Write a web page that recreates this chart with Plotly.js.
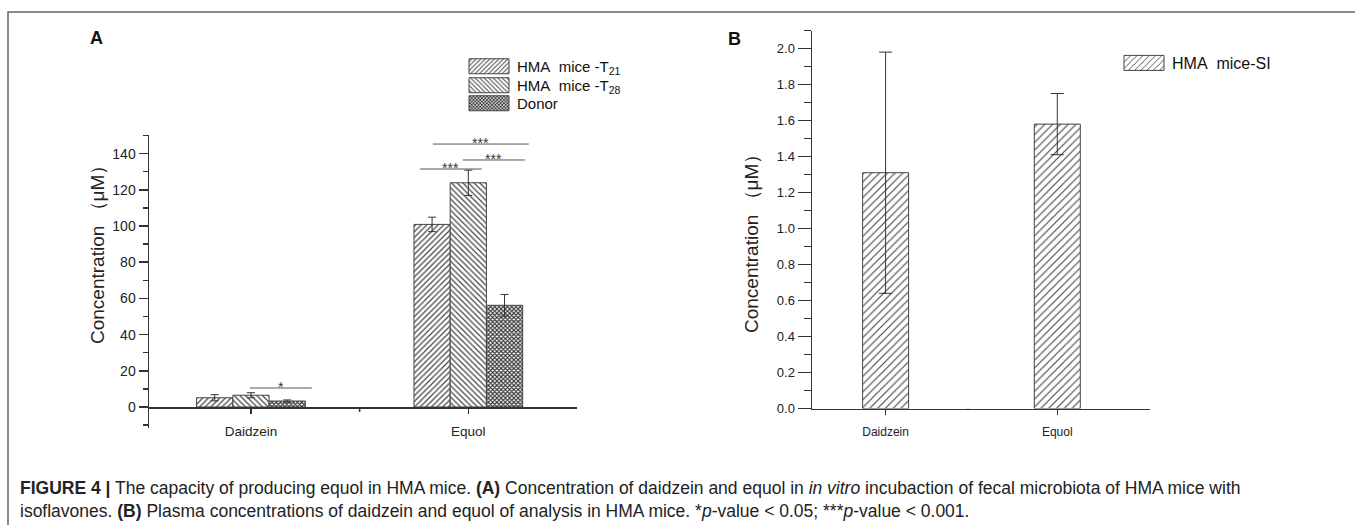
<!DOCTYPE html>
<html><head><meta charset="utf-8">
<script src="https://cdn.plot.ly/plotly-3.0.1.min.js"></script>
<style>html,body{margin:0;padding:0;background:#fff;} #chart{width:1355px;height:525px;}</style>
</head><body><div id="chart"></div>
<script>
// ---- data ----
const categories = ['Daidzein', 'Equol'];
const seriesNamesA = ['HMA&nbsp; mice -T<sub>21</sub>', 'HMA&nbsp; mice -T<sub>28</sub>', 'Donor'];
const t21Values = [5.1, 100.9];
const t21Err = [1.7, 4.0];
const t28Values = [6.5, 123.9];
const t28Err = [1.4, 7.0];
const donorValues = [3.3, 56.2];
const donorErr = [0.6, 6.0];
const seriesNameB = 'HMA&nbsp; mice-SI';
const siValues = [1.31, 1.58];
const siErr = [0.67, 0.17];
const yTitle = 'Concentration （μM）';
// significance brackets (panel A), category units / concentration units
const sigLabels = ['*', '***', '***', '***'];
const sigFrom = [-0.005, 0.777, 0.975, 0.837];
const sigTo = [0.28, 1.062, 1.26, 1.278];
const sigLevel = [10.5, 131.5, 136.5, 145.3];
const captionLine1 = '<b>FIGURE 4 |</b> The capacity of producing equol in HMA mice. <b>(A)</b> Concentration of daidzein and equol in <i>in vitro</i> incubaction of fecal microbiota of HMA mice with';
const captionLine2 = 'isoflavones. <b>(B)</b> Plasma concentrations of daidzein and equol of analysis in HMA mice. *<i>p</i>-value &lt; 0.05; ***<i>p</i>-value &lt; 0.001.';

// ---- layout helpers ----
const W = 1355, H = 525;
const px = v => v / W;
const py = v => 1 - v / H;
const AX = '#333';
const FONT = 'Arial, "Liberation Sans", sans-serif';

function barTrace(name, y, err, shape, size, solidity, fg, legend, xa, ya, width) {
  const t = {
    type: 'bar', name: name, x: categories, y: y,
    xaxis: xa, yaxis: ya, legend: legend,
    marker: {color: 'white', line: {color: '#444', width: 1},
      pattern: {shape: shape, fgcolor: fg, bgcolor: 'white', size: size, solidity: solidity}},
    error_y: {type: 'data', array: err, visible: true, color: '#333', thickness: 1, width: xa === 'x' ? 4 : 6.5},
    hoverinfo: 'skip'
  };
  if (width) t.width = width;
  return t;
}

const data = [
  barTrace(seriesNamesA[0], t21Values, t21Err, '/', 4, 0.3, '#444', 'legend', 'x', 'y'),
  barTrace(seriesNamesA[1], t28Values, t28Err, '\\', 4, 0.3, '#444', 'legend2', 'x', 'y'),
  barTrace(seriesNamesA[2], donorValues, donorErr, 'x', 3, 0.6, '#333', 'legend3', 'x', 'y'),
  barTrace(seriesNameB, siValues, siErr, '/', 5.5, 0.2, '#444', 'legend4', 'x2', 'y2', 0.268)
];

const shapes = [
  // figure frame
  {type: 'rect', xref: 'paper', yref: 'paper', x0: px(8), x1: 1.05, y0: -0.1, y1: py(12), line: {color: '#666', width: 1.5}, layer: 'below'},
  // middle x ticks
  {type: 'line', xref: 'x', yref: 'y', x0: 0.5, x1: 0.5, ysizemode: 'pixel', yanchor: 0, y0: 0, y1: -5, line: {color: AX, width: 1.5}},
  {type: 'line', xref: 'x2', yref: 'y2', x0: 0.48, x1: 0.48, ysizemode: 'pixel', yanchor: 0, y0: 0, y1: -5, line: {color: AX, width: 1.5}},
  {type: 'line', xref: 'x2', yref: 'y2', x0: -0.4287, x1: -0.4287, ysizemode: 'pixel', yanchor: 0, y0: 0, y1: -5, line: {color: AX, width: 1.5}}
];
const annotations = [
  {text: '<b>A</b>', xref: 'paper', yref: 'paper', x: px(96), y: py(38), xanchor: 'center', yanchor: 'middle', showarrow: false, font: {size: 18, family: FONT, color: '#111'}},
  {text: '<b>B</b>', xref: 'paper', yref: 'paper', x: px(734), y: py(39), xanchor: 'center', yanchor: 'middle', showarrow: false, font: {size: 18, family: FONT, color: '#111'}},
  {text: yTitle, xref: 'paper', yref: 'paper', x: px(97), y: py(250), xanchor: 'center', yanchor: 'middle', textangle: -90, showarrow: false, font: {size: 19, family: FONT, color: '#222'}},
  {text: yTitle, xref: 'paper', yref: 'paper', x: px(751), y: py(239), xanchor: 'center', yanchor: 'middle', textangle: -90, showarrow: false, font: {size: 19, family: FONT, color: '#222'}},
  {text: captionLine1, xref: 'paper', yref: 'paper', x: px(18), y: py(488), xanchor: 'left', yanchor: 'middle', showarrow: false, font: {size: 17.5, family: FONT, color: '#222'}},
  {text: captionLine2, xref: 'paper', yref: 'paper', x: px(18), y: py(511), xanchor: 'left', yanchor: 'middle', showarrow: false, font: {size: 17.5, family: FONT, color: '#222'}}
];
for (let i = 0; i < sigLabels.length; i++) {
  shapes.push({type: 'line', xref: 'x', yref: 'y', x0: sigFrom[i], x1: sigTo[i], y0: sigLevel[i], y1: sigLevel[i], line: {color: '#555', width: 1}});
  annotations.push({text: sigLabels[i], xref: 'x', yref: 'y', x: (sigFrom[i] + sigTo[i]) / 2, y: sigLevel[i], yanchor: 'middle', yshift: 1, showarrow: false, font: {size: 14, family: FONT, color: '#333'}});
}

function legendBox(x, y, size) {
  return {x: px(x), y: py(y), xanchor: 'left', yanchor: 'top', bgcolor: 'rgba(0,0,0,0)', borderwidth: 0,
    font: {size: size, family: FONT, color: '#111'}, itemwidth: 50, itemclick: false, itemdoubleclick: false};
}

const layout = {
  width: W, height: H, margin: {l: 0, r: 0, t: 0, b: 0},
  paper_bgcolor: 'white', plot_bgcolor: 'rgba(0,0,0,0)',
  font: {family: FONT, color: '#222'},
  barmode: 'group', bargap: 0.5, bargroupgap: 0,
  showlegend: true,
  legend: legendBox(457, 50, 15),
  legend2: legendBox(457, 69, 15),
  legend3: legendBox(457, 87, 15),
  legend4: legendBox(1112, 46, 16),
  xaxis: {domain: [px(149), px(577)], anchor: 'free', position: py(407), type: 'category', range: [-0.469, 1.5],
    showline: true, linecolor: AX, linewidth: 1.5, ticks: 'outside', ticklen: 5, tickcolor: AX, tickwidth: 1.5,
    tickfont: {size: 13.5, family: FONT, color: '#222'}, ticklabelstandoff: 6, showgrid: false, zeroline: false},
  yaxis: {domain: [py(428), py(135)], anchor: 'x', range: [-11.6, 150.3], tick0: 0, dtick: 20,
    showline: true, linecolor: AX, linewidth: 1.5, ticks: 'outside', ticklen: 9, tickcolor: AX, tickwidth: 1.5,
    minor: {dtick: 10, tick0: 0, ticks: 'outside', ticklen: 5, tickcolor: AX, tickwidth: 1.5, showgrid: false},
    tickfont: {size: 14, family: FONT, color: '#222'}, showgrid: false, zeroline: false},
  xaxis2: {domain: [px(812), px(1150)], anchor: 'y2', type: 'category', range: [-0.4287, 1.54],
    showline: true, linecolor: AX, linewidth: 1.5, ticks: 'outside', ticklen: 5, tickcolor: AX, tickwidth: 1.5,
    tickfont: {size: 12, family: FONT, color: '#222'}, ticklabelstandoff: 7, showgrid: false, zeroline: false},
  yaxis2: {domain: [py(408.5), py(30.5)], anchor: 'x2', range: [0, 2.1], tick0: 0, dtick: 0.2, tickformat: '.1f',
    showline: true, linecolor: AX, linewidth: 1.5, ticks: 'outside', ticklen: 13, tickcolor: AX, tickwidth: 1.5,
    minor: {dtick: 0.1, tick0: 0, ticks: 'outside', ticklen: 6.5, tickcolor: AX, tickwidth: 1.5, showgrid: false},
    tickfont: {size: 13, family: FONT, color: '#222'}, showgrid: false, zeroline: false},
  shapes: shapes,
  annotations: annotations
};

Plotly.newPlot('chart', data, layout, {staticPlot: true, displayModeBar: false}).then(function (gd) {
  gd.querySelectorAll('g.legendpoints path').forEach(function (p) {
    p.setAttribute('d', 'M-18,7.5H22V-7.5H-18Z');
  });
});
</script>
</body></html>
